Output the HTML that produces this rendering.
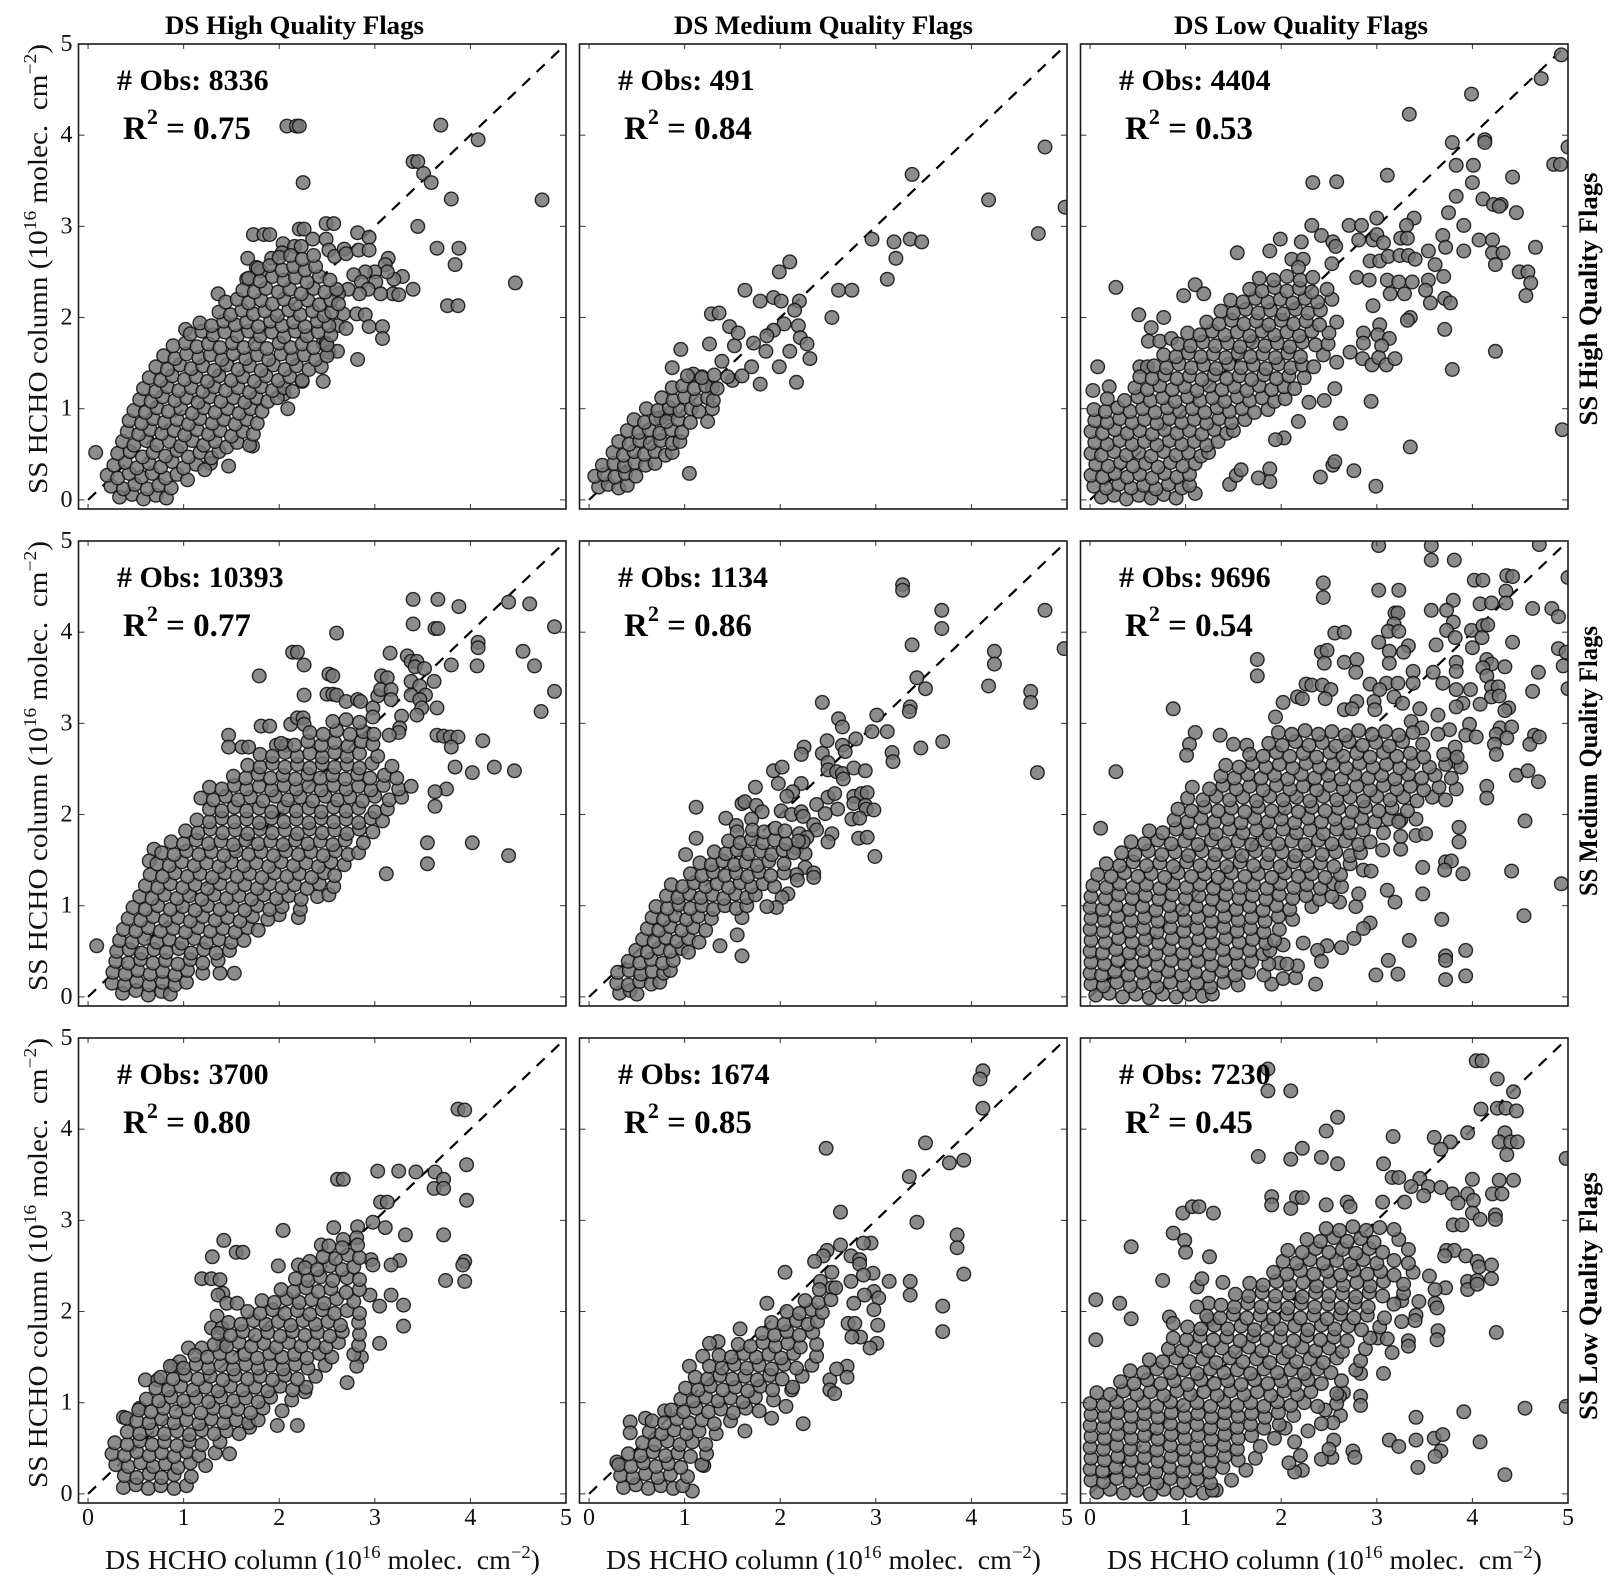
<!DOCTYPE html>
<html lang="en">
<head>
<meta charset="utf-8">
<title>DS vs SS HCHO column scatter matrix</title>
<style>
html,body{margin:0;padding:0;background:#fff}
svg{display:block;font-family:"Liberation Serif",serif}
</style>
</head>
<body>
<svg id="chart" xmlns="http://www.w3.org/2000/svg" width="1617" height="1591" viewBox="0 0 1617 1591"></svg>
<script>
/* All point arrays: alternating DS,SS readings in units of 10^14 molec/cm2 */
const highHigh=[8,52,208,410,218,410,221,410,369,411,408,395,225,348,340,371,345,371,351,358,359,348,380,330,475,329,345,300,365,276,388,276,384,258,447,238,376,213,387,213,340,231,249,303,257,303,221,297,226,297,173,291,184,291,190,291,282,293,294,288,235,286,249,286,204,281,216,278,223,278,203,271,252,274,258,267,268,275,270,270,283,274,294,274,167,265,192,265,314,265,311,258,176,255,181,251,329,245,320,242,313,250,300,250,290,250,278,247,301,239,286,239,319,226,325,225,306,226,293,231,284,226,272,231,262,226,136,226,166,242,281,204,290,203,267,204,261,191,270,188,294,190,308,190,308,177,282,154,246,172,249,172,252,162,261,163,246,130,224,130,209,100,205,116,147,37,172,59,128,40,102,187,
33,3,46,6,58,1,71,5,82,2,24,15,37,12,49,17,62,12,74,16,87,13,20,27,31,24,43,29,56,25,67,29,81,24,93,28,104,22,27,38,39,41,51,35,64,40,76,36,88,42,100,35,113,39,122,33,31,51,44,53,57,47,68,52,81,48,93,54,105,47,117,52,129,46,137,53,36,64,48,60,61,65,72,60,85,64,97,59,109,65,121,60,133,64,145,58,156,63,169,60,41,75,53,72,65,77,77,73,90,76,101,71,114,77,126,72,138,76,150,70,162,75,173,72,43,87,56,84,68,89,80,85,93,88,105,83,117,89,130,84,142,88,154,83,166,88,177,84,48,98,60,96,72,101,84,97,97,100,109,95,121,101,133,96,146,100,158,95,170,100,182,97,54,110,66,108,78,113,91,109,103,112,115,107,127,113,139,108,152,112,164,107,176,112,188,108,198,112,58,122,71,119,83,124,95,120,108,123,120,119,132,124,144,120,157,123,169,118,181,124,193,120,205,123,214,119,64,134,76,131,88,136,101,132,113,135,125,130,137,136,150,131,162,135,174,130,186,136,199,131,211,135,224,131,71,146,83,143,96,148,108,144,120,147,132,142,145,148,157,143,169,147,181,142,194,148,206,143,218,147,231,143,244,146,79,158,91,155,103,160,116,156,128,159,140,154,152,160,165,155,177,159,189,154,202,160,214,155,226,159,238,154,250,158,89,169,102,172,114,168,126,171,138,167,151,172,163,167,175,171,187,166,200,172,212,167,224,171,236,167,250,170,107,182,119,185,131,181,143,184,156,180,168,185,180,180,192,184,205,179,217,185,229,180,241,184,254,181,117,194,129,191,142,196,154,192,166,195,178,190,191,196,203,191,215,195,227,190,240,196,252,191,137,206,149,203,161,208,173,204,185,207,198,202,210,208,222,203,235,207,247,202,255,206,144,217,156,220,168,216,181,219,193,215,205,220,217,215,230,219,242,214,254,219,262,215,162,230,174,228,186,232,199,228,211,231,223,226,236,232,248,228,260,231,168,243,180,240,193,245,205,241,217,244,229,239,242,245,253,241,178,254,190,257,203,252,215,256,227,252,238,256,200,266,212,268,224,264,236,268];
const highMedium=[128,204,136,205,147,190,163,230,199,250,210,261,193,222,179,218,201,218,220,218,215,208,219,191,204,193,193,186,221,178,228,171,231,155,186,180,172,172,185,163,152,169,126,171,156,183,139,152,96,165,87,145,118,135,150,131,179,127,217,129,170,146,199,146,210,163,129,123,75,90,85,95,109,138,124,86,105,29,129,100,254,200,261,230,275,230,296,286,319,283,336,286,348,283,312,242,321,265,338,357,418,329,470,292,477,387,498,321,
10,14,20,17,31,13,40,16,6,26,16,28,27,25,38,29,49,26,14,38,26,40,37,37,48,41,59,38,69,40,25,52,36,49,47,53,58,50,69,53,80,49,87,52,31,64,42,61,53,65,64,62,75,65,87,62,95,64,40,76,52,74,63,77,74,73,86,77,97,74,47,88,58,85,70,89,81,86,93,88,106,85,60,100,72,98,84,101,95,98,107,100,115,97,76,112,88,109,100,113,112,110,124,112,130,109,87,123,98,125,110,122,122,125,134,122,103,136,118,134,131,137,145,135,160,136];
const highLow=[493,488,472,462,399,445,334,423,379,392,413,395,413,392,500,387,383,367,401,367,485,368,492,368,442,354,311,356,233,348,258,349,400,348,383,333,411,330,422,324,430,324,428,322,446,315,375,315,339,309,300,309,232,301,271,301,284,301,331,301,391,301,242,290,254,283,257,278,281,285,296,285,300,291,307,282,325,287,332,287,369,290,372,277,391,273,407,285,421,285,421,271,432,271,466,277,424,258,199,286,221,283,154,271,188,273,211,264,223,264,218,255,253,259,293,262,303,262,312,267,324,268,333,268,340,264,354,273,361,258,449,250,458,250,461,238,456,224,27,233,98,224,110,236,119,226,311,241,323,239,337,239,354,241,370,245,351,230,314,226,329,226,356,216,371,221,377,216,279,244,292,241,296,213,371,187,335,200,332,197,303,192,286,183,301,181,313,177,286,172,305,169,272,162,285,155,295,148,302,156,310,148,319,155,424,163,379,143,258,151,256,122,245,109,229,107,294,108,218,86,262,84,335,58,203,68,194,66,254,38,256,42,276,32,241,25,299,15,494,77,188,34,188,20,176,24,146,17,153,27,158,33,110,7,8,146,3,120,20,124,51,203,77,200,64,189,61,174,73,174,85,177,52,146,60,146,
12,3,25,5,38,1,51,5,64,2,77,6,90,2,4,15,17,13,30,17,43,13,56,16,69,12,82,17,96,13,104,16,1,27,13,25,26,29,39,25,52,28,65,24,78,29,91,25,104,28,6,39,19,37,32,41,45,37,58,40,71,36,84,41,97,37,110,40,1,51,12,49,25,53,38,49,51,52,64,48,77,53,90,49,103,52,116,48,124,52,5,63,18,61,31,65,44,61,57,64,70,60,83,65,96,61,109,64,122,60,134,64,1,75,13,73,26,77,39,73,52,76,65,72,78,77,91,73,104,76,117,72,130,77,143,73,150,76,5,87,18,85,31,89,44,85,57,88,70,84,83,89,96,85,109,88,122,84,135,89,148,85,162,88,4,99,16,97,29,101,42,97,55,100,68,96,81,101,94,97,107,100,120,96,133,101,146,97,159,100,172,96,186,99,18,111,36,109,50,113,63,109,76,112,89,108,102,113,115,109,128,112,141,108,154,113,167,109,180,112,193,108,204,111,47,123,60,121,73,125,86,121,99,124,112,120,125,125,138,121,151,124,164,120,177,125,190,121,203,124,214,122,52,135,65,133,78,137,91,133,104,136,117,132,130,137,143,133,156,136,169,132,182,137,195,133,208,136,224,134,67,147,80,145,93,149,106,145,119,148,132,144,145,149,158,145,171,148,184,144,197,149,210,145,222,148,234,146,77,159,90,157,103,161,116,157,129,160,142,156,155,161,168,157,181,160,194,156,207,161,220,157,244,159,92,171,105,169,118,173,131,169,144,172,157,168,170,173,183,169,196,172,209,168,222,173,236,170,249,171,102,183,115,181,128,185,141,181,154,184,167,180,180,185,193,181,206,184,219,180,232,185,250,183,122,195,135,193,148,197,161,193,174,196,187,192,200,197,213,193,226,196,240,192,258,195,137,207,150,205,163,209,176,205,189,208,202,204,215,209,228,205,241,208,147,219,160,217,173,221,186,217,199,220,212,216,225,221,238,217,253,220,167,231,180,229,193,233,206,229,219,232,232,228,248,231,177,243,192,241,206,245,220,241,233,244];
const mediumHigh=[9,56,340,436,366,436,388,428,340,409,363,404,366,404,440,433,462,431,488,406,260,399,408,389,408,383,214,378,219,378,226,364,316,377,334,374,338,368,344,368,342,362,352,360,380,364,407,363,455,379,467,363,488,335,474,313,179,352,252,354,256,352,307,352,313,350,362,346,338,346,347,341,226,331,250,332,256,332,260,331,270,324,282,326,285,324,303,330,306,337,317,337,317,326,338,331,353,331,347,326,349,317,365,317,298,317,298,307,328,308,344,309,326,295,325,290,315,287,365,287,372,286,379,285,387,285,413,281,380,274,384,252,402,246,425,252,446,248,375,228,363,225,363,209,355,169,402,169,355,146,440,155,312,135,147,287,147,274,161,274,168,274,181,297,190,297,197,276,207,276,212,299,219,306,225,306,226,299,69,162,64,149,138,26,153,26,220,87,200,90,
36,4,50,7,63,2,77,6,86,3,25,15,38,13,51,17,64,13,78,16,91,13,103,16,26,27,39,25,52,29,65,25,78,28,91,24,104,29,120,26,29,39,42,37,55,41,68,37,81,40,94,36,107,41,120,37,136,40,30,50,43,52,56,48,69,52,82,49,95,53,108,48,121,52,134,48,148,51,33,62,46,60,59,64,72,60,85,63,98,59,111,64,124,60,137,63,150,60,163,62,37,74,50,72,63,76,76,72,89,75,102,71,115,76,128,72,141,75,154,71,167,76,178,73,42,86,55,84,68,88,81,84,94,87,107,83,120,88,133,84,146,87,159,83,172,88,188,85,47,98,60,96,73,100,86,96,99,99,112,95,125,100,138,96,151,99,164,95,177,100,190,96,203,99,222,96,54,110,67,108,80,112,93,108,106,111,119,107,132,112,145,108,158,111,171,107,184,112,197,108,210,111,223,107,240,110,252,112,60,122,73,120,86,124,99,120,112,123,125,119,138,124,151,120,164,123,177,119,190,124,203,120,216,123,229,119,242,124,257,121,65,134,78,132,91,136,104,132,117,135,130,131,143,136,156,132,169,135,182,131,195,136,208,132,221,135,234,131,247,136,258,133,72,146,85,144,98,148,111,144,124,147,137,143,150,148,163,144,176,147,189,143,202,148,215,144,228,147,241,143,254,148,268,145,77,158,90,156,103,160,116,156,129,159,142,155,155,160,168,156,181,159,194,155,207,160,220,156,233,159,246,155,259,160,272,156,283,158,87,170,100,168,113,172,126,168,139,171,152,167,165,172,178,168,191,171,204,167,217,172,230,168,243,171,256,167,269,172,288,169,102,182,115,180,128,184,141,180,154,183,167,179,180,184,193,180,206,183,219,179,232,184,245,180,258,183,271,179,284,184,298,181,114,194,127,192,140,196,153,192,166,195,179,191,192,196,205,192,218,195,231,191,244,196,257,192,270,195,283,191,296,196,308,193,127,206,140,204,153,208,166,204,179,207,192,203,205,208,218,204,231,207,244,203,257,208,270,204,283,207,300,203,313,206,118,218,131,216,144,220,157,216,170,219,183,215,196,220,209,216,222,219,235,215,248,220,261,216,274,219,287,215,300,220,315,216,328,219,127,230,140,228,153,232,166,228,179,231,192,227,205,232,218,228,231,231,244,227,257,232,270,228,283,231,296,227,309,232,325,228,338,231,152,242,165,240,178,244,191,240,204,243,217,239,230,244,243,240,256,243,269,239,282,244,295,240,310,243,323,240,167,254,180,252,193,256,206,252,219,255,232,251,245,256,258,252,271,255,284,251,297,256,318,253,180,266,193,264,206,268,219,264,232,267,245,263,258,268,271,264,284,267,303,264,202,278,216,276,230,280,244,276,258,279,272,275,286,280,298,277,232,290,246,288,260,292,274,288,288,291,299,288,256,302,270,304,284,301];
const mediumMedium=[328,452,328,446,369,424,477,424,369,404,338,386,497,382,424,379,424,365,343,350,352,338,418,341,462,335,462,323,336,318,335,313,244,323,261,305,265,296,301,309,296,291,312,291,279,283,249,281,265,276,268,269,317,268,318,258,347,273,370,280,469,246,225,274,222,266,244,267,250,257,250,249,193,248,202,252,259,247,265,245,266,239,277,251,289,248,198,234,222,234,174,230,213,225,207,220,250,219,257,223,277,220,285,223,291,224,277,212,289,210,290,206,298,205,238,211,260,206,247,201,275,195,283,196,254,179,250,170,282,174,291,175,299,154,112,208,112,174,101,156,143,196,160,212,163,214,175,210,181,203,170,195,154,188,155,181,201,204,212,200,222,203,224,198,235,189,238,183,220,179,228,175,217,163,226,157,224,170,226,142,235,136,235,131,217,134,218,128,208,113,202,109,196,98,186,99,155,68,160,87,137,56,160,45,
32,4,43,7,50,3,29,15,41,13,53,17,65,14,74,16,30,27,42,29,54,25,66,28,78,26,85,29,41,39,53,37,65,41,77,37,88,40,49,51,61,49,73,53,85,50,97,53,104,49,56,63,68,61,80,65,92,61,104,64,115,60,61,75,73,73,85,77,97,73,109,76,122,73,66,87,78,85,90,89,102,85,114,88,128,86,70,99,82,97,94,101,106,97,118,100,130,96,142,100,154,97,165,100,81,111,93,109,105,113,117,109,129,112,141,108,153,113,165,109,174,112,86,123,98,121,110,125,122,121,134,124,146,120,158,125,170,121,182,124,194,121,106,135,118,133,130,137,142,133,154,136,166,132,178,137,190,133,204,136,116,147,128,145,140,149,152,145,164,148,176,144,188,149,204,146,131,159,143,157,155,161,167,157,179,160,191,156,203,161,214,158,146,171,158,169,170,173,182,169,194,172,206,168,219,171,171,183,183,181,195,185,205,182];
const mediumLow=[302,495,357,495,357,479,381,479,470,496,244,454,244,438,302,446,323,446,402,457,411,457,436,462,442,461,500,460,435,445,435,432,408,431,420,432,380,435,357,424,373,424,463,426,483,426,490,417,319,421,322,421,380,411,373,402,318,409,312,401,323,401,256,399,266,400,399,402,411,407,416,408,382,394,410,394,302,389,362,386,400,383,442,389,333,385,328,378,313,379,242,378,248,380,490,382,498,378,495,363,175,370,175,352,245,366,266,367,279,370,278,356,313,366,338,357,359,356,383,367,383,357,415,370,420,365,434,362,411,361,415,352,469,356,500,338,463,335,369,344,383,337,398,337,420,340,427,340,420,329,428,330,293,343,310,344,322,344,338,344,303,337,318,329,327,322,226,343,232,342,243,342,252,337,246,327,217,329,222,327,202,323,279,324,266,315,274,316,297,324,298,315,408,321,390,322,383,318,438,317,434,314,87,316,110,290,104,277,101,265,136,287,150,277,164,276,27,247,11,185,194,307,345,316,364,309,336,302,347,295,376,293,364,288,397,299,393,287,404,285,429,295,441,296,425,288,436,284,423,277,465,287,460,277,470,285,382,274,425,266,382,258,446,243,458,248,469,236,415,231,415,218,455,193,386,186,386,170,341,177,351,179,372,148,378,149,348,142,371,139,390,135,441,138,493,124,311,117,319,104,348,113,368,85,454,89,293,81,286,75,276,64,334,62,312,40,372,45,372,40,393,51,299,24,322,25,372,19,393,23,236,14,263,54,248,56,238,51,242,39,223,59,202,57,190,14,202,20,215,21,217,34,198,37,206,36,278,99,281,113,261,104,286,139,294,138,306,161,325,162,325,194,341,195,325,176,
6,2,20,4,34,0,48,3,62,-1,76,3,90,0,104,3,118,1,128,3,1,14,14,12,28,16,42,12,56,15,70,11,84,16,98,12,112,15,126,11,140,16,155,13,0,26,12,24,26,28,40,24,54,27,68,23,82,28,96,24,110,27,124,23,138,28,152,24,166,27,182,24,1,38,15,36,29,40,43,36,57,39,71,35,85,40,99,36,113,39,127,35,141,40,155,36,169,39,187,36,0,50,13,48,27,52,41,48,55,51,69,47,83,52,97,48,111,51,125,47,139,52,153,48,167,51,181,47,188,51,1,62,16,60,30,64,44,60,58,63,72,59,86,64,100,60,114,63,128,59,142,64,156,60,170,63,184,59,193,62,0,74,14,72,28,76,42,72,56,75,70,71,84,76,98,72,112,75,126,71,140,76,154,72,168,75,182,71,198,74,1,86,15,84,29,88,43,84,57,87,71,83,85,88,99,84,113,87,127,83,141,88,155,84,169,87,183,83,197,88,212,85,0,98,13,96,27,100,41,96,55,99,69,95,83,100,97,96,111,99,125,95,139,100,153,96,167,99,181,95,195,100,209,96,232,99,1,110,16,108,30,112,44,108,58,111,72,107,86,112,100,108,114,111,128,107,142,112,156,108,170,111,184,107,198,112,212,108,226,111,240,107,253,110,3,122,17,120,31,124,45,120,59,123,73,119,87,124,101,120,115,123,129,119,143,124,157,120,171,123,185,119,199,124,213,120,227,123,241,119,255,124,263,121,8,134,22,132,36,136,50,132,64,135,78,131,92,136,106,132,120,135,134,131,148,136,162,132,176,135,190,131,204,136,218,132,232,135,246,131,262,134,17,146,31,144,45,148,59,144,73,147,87,143,101,148,115,144,129,147,143,143,157,148,171,144,185,147,199,143,213,148,227,144,241,147,255,143,272,146,33,158,47,156,61,160,75,156,89,159,103,155,117,160,131,156,145,159,159,155,173,160,187,156,201,159,215,155,229,160,243,156,257,159,272,155,283,158,43,170,57,168,71,172,85,168,99,171,113,167,127,172,141,168,155,171,169,167,183,172,197,168,211,171,225,167,239,172,253,168,267,171,281,167,293,170,62,182,76,180,90,184,104,180,118,183,132,179,146,184,160,180,174,183,188,179,202,184,216,180,230,183,244,179,258,184,272,180,286,183,307,180,88,194,102,192,116,196,130,192,144,195,158,191,172,196,186,192,200,195,214,191,228,196,242,192,256,195,270,191,284,196,298,192,312,195,323,192,92,206,106,204,120,208,134,204,148,207,162,203,176,208,190,204,204,207,218,203,232,208,246,204,260,207,274,203,288,208,302,204,316,207,332,204,102,218,118,216,132,220,146,216,160,219,174,215,188,220,202,216,216,219,230,215,244,220,258,216,272,219,286,215,300,220,314,216,328,219,342,215,358,219,372,216,107,230,125,228,139,232,153,228,167,231,181,227,195,232,209,228,223,231,237,227,251,232,265,228,279,231,293,227,307,232,321,228,335,231,349,227,365,230,383,228,137,242,151,240,165,244,179,240,193,243,207,239,221,244,235,240,249,243,263,239,277,244,291,240,305,243,319,239,333,244,347,240,361,243,378,240,142,254,156,252,170,256,184,252,198,255,212,251,226,256,240,252,254,255,268,251,282,256,296,252,310,255,324,251,338,256,355,252,372,255,388,252,167,266,181,264,195,268,209,264,223,267,237,263,251,268,265,264,279,267,293,263,307,268,321,264,335,267,349,263,370,266,384,263,187,278,201,276,215,280,229,276,243,279,257,275,271,280,285,276,299,279,313,275,327,280,348,277,197,290,211,288,225,292,239,288,253,291,267,287,281,292,295,288,309,291,323,287,338,290];
const lowHigh=[387,422,394,421,396,361,303,354,325,354,343,353,363,353,372,345,362,335,372,335,396,322,261,345,267,345,306,320,313,320,298,298,311,292,332,284,372,284,257,292,282,293,204,289,326,256,317,251,394,255,392,251,374,234,394,233,296,257,298,251,142,278,130,260,155,265,162,265,119,236,129,236,138,235,141,220,136,218,145,209,156,209,135,195,129,182,140,182,295,218,317,218,305,206,330,207,330,184,305,165,286,150,281,140,271,122,227,112,219,75,198,75,169,73,148,44,60,125,73,125,37,84,40,83,54,94,105,160,119,160,89,140,96,145,141,165,199,250,220,251,232,255,244,273,267,279,281,281,
37,7,50,10,63,6,76,9,90,6,103,9,38,20,51,18,64,22,77,18,90,21,108,19,29,32,42,30,55,34,68,30,81,33,94,29,107,34,123,31,25,44,38,42,51,46,64,42,77,45,90,41,103,46,116,42,133,45,28,56,41,54,54,58,67,54,80,57,93,53,106,58,119,54,138,57,41,68,54,66,67,70,80,66,93,69,106,65,119,70,132,66,145,69,158,66,51,80,64,78,77,82,90,78,103,81,116,77,129,82,142,78,155,81,168,78,178,81,53,92,66,90,79,94,92,90,105,93,118,89,131,94,144,90,157,93,170,89,183,94,203,91,61,104,74,102,87,106,100,102,113,105,126,101,139,106,152,102,165,105,178,101,191,106,213,103,71,116,84,114,97,118,110,114,123,117,136,113,149,118,162,114,175,117,188,113,201,118,214,114,228,117,76,128,89,126,102,130,115,126,128,129,141,125,154,130,167,126,180,129,193,125,206,130,219,126,238,129,86,140,100,138,113,142,126,138,139,141,152,137,165,142,178,138,191,141,204,137,217,142,230,138,248,141,112,152,125,150,138,154,151,150,164,153,177,149,190,154,203,150,216,153,229,149,242,154,255,150,278,153,132,164,145,162,158,166,171,162,184,165,197,161,210,166,223,162,236,165,249,161,262,166,283,163,136,176,149,174,162,178,175,174,188,177,201,173,214,178,227,174,240,177,253,173,266,178,284,175,147,188,160,186,173,190,186,186,199,189,212,185,225,190,238,186,251,189,264,185,283,188,167,200,180,198,193,202,206,198,219,201,232,197,245,202,258,198,271,201,284,198,182,212,195,210,208,214,221,210,234,213,247,209,260,214,278,211,202,224,215,222,228,226,241,222,254,225,270,221,284,224,217,236,230,234,243,238,256,234,271,237,284,235,227,248,240,246,253,250,266,246,278,249,246,260,259,258,272,262,284,259,252,272,266,270,282,273];
const lowMedium=[412,464,409,455,412,423,248,379,352,385,392,366,377,363,335,348,263,309,343,298,385,284,385,270,392,241,336,233,336,218,314,233,370,206,370,178,205,243,186,209,158,181,224,77,120,31,108,3,29,35,43,79,43,67,59,83,79,91,295,275,287,275,263,273,249,267,245,261,236,255,274,261,283,257,283,252,254,243,297,242,287,240,242,233,274,233,254,226,298,222,303,215,288,218,277,209,298,202,302,185,301,165,294,160,284,172,275,172,271,187,278,187,252,125,270,140,270,128,252,114,257,110,259,137,212,114,206,96,191,83,135,167,126,165,105,140,119,151,
36,7,49,10,62,6,75,9,88,6,98,9,33,20,46,18,59,22,72,18,85,21,103,19,31,32,44,30,57,34,70,30,83,33,96,29,118,32,41,44,54,42,67,46,80,42,93,45,106,41,123,44,56,56,69,54,82,58,95,54,108,57,122,54,63,68,76,66,89,70,102,66,115,69,133,66,163,69,66,80,79,78,92,82,105,78,118,81,131,77,148,80,86,92,99,90,112,94,125,90,138,93,151,89,164,94,178,91,96,104,109,102,122,106,135,102,148,105,161,101,174,106,193,103,101,116,114,114,127,118,140,114,153,117,166,113,179,118,192,114,213,117,111,128,124,126,137,130,150,126,163,129,176,125,189,130,202,126,223,129,126,140,139,138,152,142,165,138,178,141,191,137,204,142,217,138,233,141,136,152,149,150,162,154,175,150,188,153,201,149,214,154,238,151,156,164,169,162,182,166,195,162,208,165,221,161,238,164,181,176,194,174,207,178,220,174,234,177,191,188,204,186,217,190,229,186,239,189,207,200,220,198,233,202,244,199,226,212,240,210,253,213,241,224,258,226];
const lowLow=[404,475,410,475,186,466,186,442,210,442,426,455,443,441,409,422,426,423,435,423,446,420,259,413,247,398,434,396,395,396,317,392,360,391,377,386,367,378,428,386,440,386,447,386,436,372,222,379,176,370,210,367,242,369,259,362,307,362,498,368,316,347,323,347,345,346,400,345,428,344,443,344,336,337,354,337,367,336,379,329,395,329,421,329,431,329,401,322,190,326,190,317,216,325,222,325,210,313,247,317,269,320,272,315,306,320,329,320,385,319,349,327,400,308,408,301,424,306,424,301,380,295,389,295,97,308,107,315,114,315,129,308,87,286,99,278,100,265,125,260,43,271,76,234,6,213,31,209,43,192,6,169,112,227,117,236,139,232,124,209,112,205,124,191,83,194,87,187,373,267,381,267,393,261,371,261,405,255,407,249,420,251,420,236,395,233,405,234,395,224,405,230,355,239,372,226,361,224,361,209,344,211,363,204,341,196,340,190,326,189,326,212,364,179,363,169,425,177,333,168,333,162,316,155,307,132,301,171,311,170,283,132,283,107,283,97,265,111,261,107,262,86,246,92,254,78,242,77,391,90,455,94,498,96,341,84,313,59,323,52,341,59,360,61,369,65,367,47,361,41,408,57,343,29,434,21,275,47,277,40,253,40,242,38,255,59,250,49,222,26,214,24,208,34,220,42,214,57,228,69,204,72,132,4,
7,2,21,5,35,1,49,4,63,0,77,5,91,1,105,4,119,1,128,4,1,15,14,13,28,17,42,13,56,16,70,12,84,17,98,13,112,16,126,12,148,15,0,27,13,25,27,29,41,25,55,28,69,24,83,29,97,25,111,28,125,24,139,29,163,26,1,39,15,37,29,41,43,37,57,40,71,36,85,41,99,37,113,40,127,36,141,41,155,37,173,39,0,51,14,49,28,53,42,49,56,52,70,48,84,53,98,49,112,52,126,48,140,53,154,49,178,52,1,63,15,61,29,65,43,61,57,64,71,60,85,65,99,61,113,64,127,60,141,65,155,61,169,64,193,61,0,75,14,73,28,77,42,73,56,76,70,72,84,77,98,73,112,76,126,72,140,77,154,73,168,76,182,72,198,76,1,87,15,85,29,89,43,85,57,88,71,84,85,89,99,85,113,88,127,84,141,89,155,85,169,88,183,84,197,89,213,86,0,99,14,97,28,101,42,97,56,100,70,96,84,101,98,97,112,100,126,96,140,101,154,97,168,100,182,96,196,101,210,97,224,100,238,96,258,99,7,111,21,109,35,113,49,109,63,112,77,108,91,113,105,109,119,112,133,108,147,113,161,109,175,112,189,108,203,113,217,109,231,112,258,110,32,123,46,121,60,125,74,121,88,124,102,120,116,125,130,121,144,124,158,120,172,125,186,121,200,124,214,120,228,125,242,121,263,124,42,135,56,133,70,137,84,133,98,136,112,132,126,137,140,133,154,136,168,132,182,137,196,133,210,136,224,132,238,137,252,133,278,136,62,147,76,145,90,149,104,145,118,148,132,144,146,149,160,145,174,148,188,144,202,149,216,145,230,148,244,144,258,149,283,146,82,159,96,157,110,161,124,157,138,160,152,156,166,161,180,157,194,160,208,156,222,161,236,157,250,160,264,156,288,159,87,171,101,169,115,173,129,169,143,172,157,168,171,173,185,169,199,172,213,168,227,173,241,169,255,172,269,168,293,171,102,183,116,181,130,185,144,181,158,184,172,180,186,185,200,181,214,184,228,180,242,185,256,181,270,184,284,180,303,183,122,195,136,193,150,197,164,193,178,196,192,192,206,197,220,193,234,196,248,192,262,197,276,193,290,196,308,193,137,207,151,205,165,209,179,205,193,208,207,204,221,209,235,205,249,208,263,204,277,209,291,205,318,208,152,219,166,217,180,221,194,217,208,220,222,216,236,221,250,217,264,220,278,216,292,221,306,217,328,220,167,231,181,229,195,233,209,229,223,232,237,228,251,233,265,229,279,232,293,228,307,233,328,230,192,243,206,241,220,245,234,241,248,244,262,240,276,245,290,241,304,244,318,240,338,243,202,255,216,253,230,257,244,253,258,256,272,252,286,257,300,253,318,256,333,253,207,267,222,265,236,269,250,265,264,268,278,264,292,269,306,265,333,268,227,279,241,277,255,281,269,277,283,280,297,276,323,279,247,291,261,289,275,293,289,289,303,292,318,290];

const panelSeries=[[highHigh,highMedium,highLow],[mediumHigh,mediumMedium,mediumLow],[lowHigh,lowMedium,lowLow]];
const axisTicks=[0,1,2,3,4,5];
const columnTitles=["DS High Quality Flags","DS Medium Quality Flags","DS Low Quality Flags"];
const rowTitles=["SS High Quality Flags","SS Medium Quality Flags","SS Low Quality Flags"];
const observationCounts=[[8336,491,4404],[10393,1134,9696],[3700,1674,7230]];
const rSquaredValues=[["0.75","0.84","0.53"],["0.77","0.86","0.54"],["0.80","0.85","0.45"]];

const NS='http://www.w3.org/2000/svg';
const svg=document.getElementById('chart');
const panelW=487.5,panelH=465;
const colLeft=[78.5,579.5,1080.5];
const rowTop=[44,541,1038];
const dataMin=-0.1,dataMax=5,unitScale=100;
const titleCenter=[294.5,823.5,1301];
const titleWidth=[259,299,254];
const rowTitleCenter=[299,761,1296];
const rowTitleWidth=[253,270,248];
const defs=document.createElementNS(NS,'defs');
svg.appendChild(defs);

function el(tag,attrs,parent){
  const e=document.createElementNS(NS,tag);
  for(const k in attrs)e.setAttribute(k,attrs[k]);
  (parent||svg).appendChild(e);
  return e;
}
function makeX(left){return v=>left+(v-dataMin)/(dataMax-dataMin)*panelW;}
function makeY(top){return v=>top+panelH-(v-dataMin)/(dataMax-dataMin)*panelH;}

function labelWithExponents(t,size){
  const sup=Math.round(size*0.68);
  const up=Math.round(size*0.42);
  t.innerHTML='<tspan>'+t.getAttribute('data-label')+' (10</tspan><tspan font-size="'+sup+'" dy="-'+up+'">16</tspan><tspan dy="'+up+'">\u00a0molec.\u00a0\u00a0cm</tspan><tspan font-size="'+sup+'" dy="-'+up+'">\u22122</tspan><tspan dy="'+up+'">)</tspan>';
}

for(let r=0;r<3;r++){
  for(let c=0;c<3;c++){
    const L=colLeft[c],T=rowTop[r];
    const sx=makeX(L),sy=makeY(T);
    const clipId='clip-'+r+'-'+c;
    const cp=el('clipPath',{id:clipId},defs);
    el('rect',{x:L,y:T,width:panelW,height:panelH},cp);

    const g=el('g',{});
    
    

    const line=el('line',{x1:sx(0),y1:sy(0),x2:sx(5),y2:sy(5),stroke:'#000','stroke-width':2.2,'stroke-dasharray':'11 9'},g);
    
    
    line.setAttribute('clip-path','url(#'+clipId+')');

    const pts=el('g',{'clip-path':'url(#'+clipId+')',fill:'#767676','fill-opacity':0.84,stroke:'#111','stroke-opacity':0.88,'stroke-width':1.4},g);
    
    
    const data=panelSeries[r][c];
    for(let i=0;i+1<data.length;i+=2){
      const p=el('circle',{cx:sx(data[i]/unitScale).toFixed(1),cy:sy(data[i+1]/unitScale).toFixed(1),r:6.8},pts);
      
      
    }

    axisTicks.forEach(v=>{
      const xp=sx(v),yp=sy(v);
      const tg=el('g',{stroke:'#333','stroke-width':1},g);
      
      
      el('line',{x1:xp,y1:T,x2:xp,y2:T+5},tg);
      el('line',{x1:xp,y1:T+panelH,x2:xp,y2:T+panelH-5},tg);
      el('line',{x1:L,y1:yp,x2:L+6,y2:yp},tg);
      el('line',{x1:L+panelW,y1:yp,x2:L+panelW-6,y2:yp},tg);
      if(r===2){
        const t=el('text',{x:xp,y:T+panelH+22,'text-anchor':'middle','font-size':24,fill:'#111'});
        
        
        t.textContent=v;
      }
      if(c===0){
        const t=el('text',{x:L-6,y:yp+7,'text-anchor':'end','font-size':24,fill:'#111'});
        
        
        t.textContent=v;
      }
    });

    const frame=el('rect',{x:L,y:T,width:panelW,height:panelH,fill:'none',stroke:'#1a1a1a','stroke-width':1.6},g);
    
    

    const obs=el('text',{x:L+38.5,y:T+46,'font-size':30,'font-weight':'bold',fill:'#000'},g);
    
    
    obs.textContent='# Obs: '+observationCounts[r][c];

    const rs=el('text',{x:L+44.5,y:T+95,'font-size':33,'font-weight':'bold',fill:'#000'},g);
    
    
    rs.innerHTML='<tspan>R</tspan><tspan font-size="22" dy="-15">2</tspan><tspan dy="15"> = '+rSquaredValues[r][c]+'</tspan>';

    if(r===2){
      const xl=el('text',{x:L+26.5,y:1569,'font-size':27,fill:'#111','data-label':'DS HCHO column',textLength:435,lengthAdjust:'spacingAndGlyphs'});
      
      
      labelWithExponents(xl,27);
    }
    if(c===0){
      const cy=T+225;
      const yl=el('text',{x:0,y:0,transform:'translate(47,'+cy+') rotate(-90)','text-anchor':'middle','font-size':27,fill:'#111','data-label':'SS HCHO column',textLength:450,lengthAdjust:'spacingAndGlyphs'});
      
      
      labelWithExponents(yl,27);
    }
  }
}

columnTitles.forEach((txt,i)=>{
  const t=el('text',{x:titleCenter[i],y:34,'text-anchor':'middle','font-size':26,'font-weight':'bold',fill:'#000',textLength:titleWidth[i],lengthAdjust:'spacingAndGlyphs'});
  
  
  t.textContent=txt;
});
rowTitles.forEach((txt,i)=>{
  const t=el('text',{x:0,y:0,transform:'translate(1597,'+rowTitleCenter[i]+') rotate(-90)','text-anchor':'middle','font-size':26,'font-weight':'bold',fill:'#000',textLength:rowTitleWidth[i],lengthAdjust:'spacingAndGlyphs'});
  
  
  t.textContent=txt;
});
</script>
</body>
</html>
